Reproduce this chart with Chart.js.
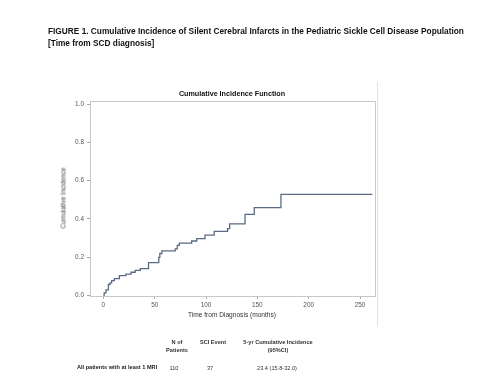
<!DOCTYPE html>
<html>
<head>
<meta charset="utf-8">
<script src="https://cdn.jsdelivr.net/npm/chart.js@4.4.1/dist/chart.umd.min.js"></script>
<style>
  body { margin: 0; background: #fff; width: 500px; height: 387px; overflow: hidden; position: relative; font-family: "Liberation Sans", Arial, sans-serif; }
  #wrap { position: absolute; left: 0; top: 0; width: 500px; height: 387px; }
  .t { position: absolute; white-space: nowrap; }
  .fig { font-weight: bold; font-size: 8.3px; color: #111; left: 48px; }
  .tbl { font-size: 5.6px; color: #333; transform: translateX(-50%); text-align: center; line-height: 8px; }
  #outer { position: absolute; left: 377px; top: 82px; width: 1px; height: 245px; background: #e2e2e2; }
</style>
</head>
<body>
<div id="wrap"><canvas id="cif" width="500" height="387"></canvas></div>
<div id="outer"></div>
<div class="t fig" style="top:26px">FIGURE 1. Cumulative Incidence of Silent Cerebral Infarcts in the Pediatric Sickle Cell Disease Population</div>
<div class="t fig" style="top:38px">[Time from SCD diagnosis]</div>
<div class="t" style="left:232px;top:89px;transform:translateX(-50%);font-weight:bold;font-size:7.2px;color:#111">Cumulative Incidence Function</div>
<div class="t" style="left:63px;top:198px;transform:translate(-50%,-50%) rotate(-90deg);font-size:6.4px;color:#444">Cumulative Incidence</div>
<div class="t" style="left:232px;top:311px;transform:translateX(-50%);font-size:6.6px;color:#333">Time from Diagnosis (months)</div>
<div class="t tbl" style="left:177px;top:338px;font-weight:bold">N of<br>Patients</div>
<div class="t tbl" style="left:213px;top:338px;font-weight:bold">SCI Event</div>
<div class="t tbl" style="left:278px;top:338px;font-weight:bold">5-yr Cumulative Incidence<br>(95%CI)</div>
<div class="t" style="left:77px;top:364px;font-size:5.6px;font-weight:bold;color:#222">All patients with at least 1 MRI</div>
<div class="t tbl" style="left:174px;top:364px">110</div>
<div class="t tbl" style="left:210px;top:364px">37</div>
<div class="t tbl" style="left:277px;top:364px">23.4 (15.8-32.0)</div>
<script>
// event times (months) and cumulative incidence
const months = [0, 0.8, 2.6, 4.9, 6.5, 8.1, 10.7, 15.6, 22, 27, 31, 36, 44, 54, 55, 57, 70, 72, 74, 86, 91, 99, 108, 121, 123, 138, 147, 173, 262];
const cumInc = [0, 0.014, 0.03, 0.058, 0.066, 0.078, 0.089, 0.104, 0.112, 0.122, 0.132, 0.141, 0.172, 0.2, 0.22, 0.234, 0.244, 0.262, 0.274, 0.285, 0.298, 0.316, 0.335, 0.35, 0.375, 0.424, 0.459, 0.529, 0.529];
const xTicks = [0, 50, 100, 150, 200, 250];
const yTicks = [0, 0.2, 0.4, 0.6, 0.8, 1.0];

const points = months.map((m, i) => ({ x: m, y: cumInc[i] }));

// light frame around the plot area, SAS style
const framePlugin = {
  id: "frame",
  afterDraw(chart) {
    const a = chart.chartArea, ctx = chart.ctx;
    ctx.save();
    ctx.strokeStyle = "#c8c8c8";
    ctx.lineWidth = 1;
    ctx.strokeRect(a.left + 0.5, a.top + 0.5, a.right - a.left, a.bottom - a.top);
    ctx.restore();
  }
};

new Chart(document.getElementById("cif").getContext("2d"), {
  type: "line",
  data: {
    datasets: [{
      data: points,
      stepped: "before",
      borderColor: "#5b6a84",
      borderWidth: 1.3,
      pointRadius: 0,
      fill: false
    }]
  },
  options: {
    responsive: false,
    animation: false,
    events: [],
    layout: { padding: { left: 50, top: 101, right: 125, bottom: 61 } },
    plugins: { legend: { display: false }, tooltip: { enabled: false } },
    scales: {
      x: {
        type: "linear",
        min: -13,
        max: 264.6,
        afterBuildTicks: (s) => { s.ticks = xTicks.map(v => ({ value: v })); },
        afterFit: (s) => { s.height = 30; },
        grid: { display: true, drawOnChartArea: false, drawTicks: true, tickLength: 3, color: "#aaa" },
        border: { display: false },
        ticks: { color: "#555", font: { size: 6.4, family: "Liberation Sans" }, padding: 2, maxRotation: 0 }
      },
      y: {
        min: -0.002,
        max: 1.016,
        afterBuildTicks: (s) => { s.ticks = yTicks.map(v => ({ value: v })); },
        afterFit: (s) => { s.width = 40; },
        grid: { display: true, drawOnChartArea: false, drawTicks: true, tickLength: 3, color: "#aaa" },
        border: { display: false },
        ticks: { color: "#555", font: { size: 6.4, family: "Liberation Sans" }, padding: 3, callback: (v) => v.toFixed(1) }
      }
    }
  },
  plugins: [framePlugin]
});
</script>
</body>
</html>
